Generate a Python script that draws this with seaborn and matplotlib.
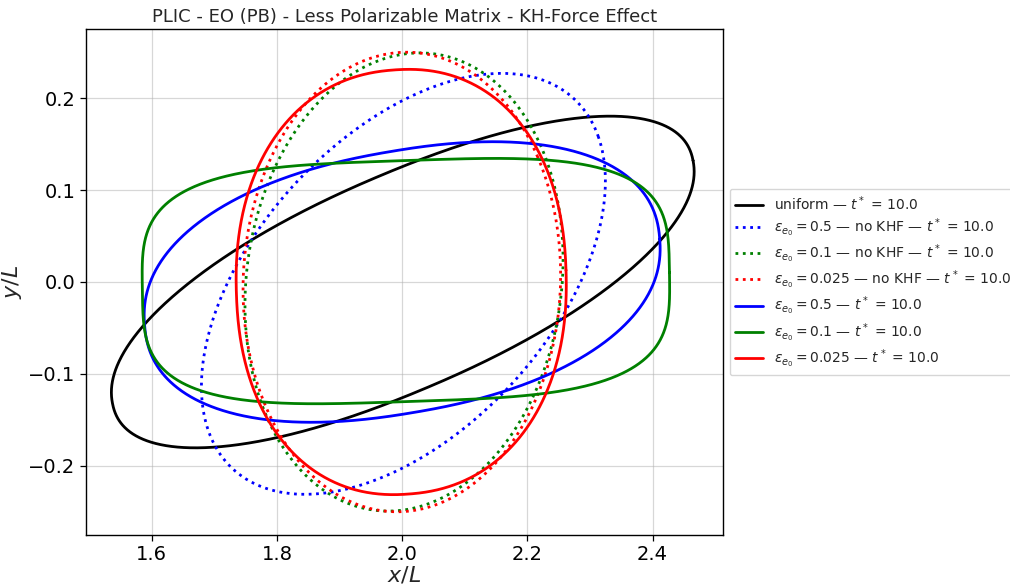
import numpy as np
import pandas as pd
import matplotlib
matplotlib.use("Agg")
import matplotlib.pyplot as plt
import seaborn as sns

# ---- data (interface shapes at t* = 10) ----
labels = [
    r"uniform — $t^*$ = 10.0",
    r"$\varepsilon_{e_0} = 0.5$ — no KHF — $t^*$ = 10.0",
    r"$\varepsilon_{e_0} = 0.1$ — no KHF — $t^*$ = 10.0",
    r"$\varepsilon_{e_0} = 0.025$ — no KHF — $t^*$ = 10.0",
    r"$\varepsilon_{e_0} = 0.5$ — $t^*$ = 10.0",
    r"$\varepsilon_{e_0} = 0.1$ — $t^*$ = 10.0",
    r"$\varepsilon_{e_0} = 0.025$ — $t^*$ = 10.0",
]
center_x = [2.001, 2.002, 2.003, 1.9995, 2.000, 2.006, 1.9985]
center_y = [0.000, -0.002, 0.000, 0.000, 0.000, 0.001, 0.000]
semi_major = [0.482, 0.350, 0.264, 0.256, 0.414, 0.421, 0.2635]
semi_minor = [0.121, 0.1841, 0.2384, 0.2473, 0.143, 0.131, 0.2308]
tilt_deg = [15.9, 27.15, 39.4, 32.0, 6.5, 1.3, 2.8]
shape_exp = [2.15, 2.0, 2.0, 2.0, 2.25, 3.5, 2.2]
colors = ["black", "blue", "green", "red", "blue", "green", "red"]
styles = ["-", ":", ":", ":", "-", "-", "-"]

x_ticks = [1.6, 1.8, 2.0, 2.2, 2.4]
y_ticks = [-0.2, -0.1, 0.0, 0.1, 0.2]

sns.set_theme(style="ticks")
plt.rcParams["font.family"] = ["DejaVu Sans"]
plt.rcParams["mathtext.fontset"] = "dejavusans"

fig = plt.figure(figsize=(10.1, 5.85), dpi=100)
ax = fig.add_axes([0.0847, 0.0855, 0.6309, 0.8649])

t = np.linspace(0, 2 * np.pi, 1500)
for i, lab in enumerate(labels):
    n = shape_exp[i]
    c, s = np.cos(t), np.sin(t)
    u = semi_major[i] * np.sign(c) * np.abs(c) ** (2.0 / n)
    v = semi_minor[i] * np.sign(s) * np.abs(s) ** (2.0 / n)
    th = np.deg2rad(tilt_deg[i])
    xs = center_x[i] + u * np.cos(th) - v * np.sin(th)
    ys = center_y[i] + u * np.sin(th) + v * np.cos(th)
    df = pd.DataFrame({"x": xs, "y": ys})
    sns.lineplot(data=df, x="x", y="y", sort=False, estimator=None,
                 color=colors[i], linestyle=styles[i], linewidth=2.0,
                 label=lab, ax=ax)

ax.set_xlim(1.4944, 2.512)
ax.set_ylim(-0.275, 0.275)
ax.set_xticks(x_ticks)
ax.set_yticks(y_ticks)
ax.grid(True, color="#b0b0b0", alpha=0.5, linewidth=0.9)
for sp in ax.spines.values():
    sp.set_color("black")
    sp.set_linewidth(1.0)
ax.tick_params(axis="both", labelsize=14, length=4, width=0.9, color="black",
               labelcolor="black")
ax.set_xlabel(r"$x/L$", fontsize=16, labelpad=0)
ax.set_ylabel(r"$y/L$", fontsize=16, labelpad=3)
ax.set_title("PLIC - EO (PB) - Less Polarizable Matrix - KH-Force Effect",
             fontsize=13, pad=5)

leg = ax.legend(loc="center left", bbox_to_anchor=(1.0, 0.5), fontsize=10,
                frameon=True, handlelength=2.0, labelspacing=0.25)
leg.get_frame().set_edgecolor("#cccccc")

fig.savefig("out.png", dpi=100)
